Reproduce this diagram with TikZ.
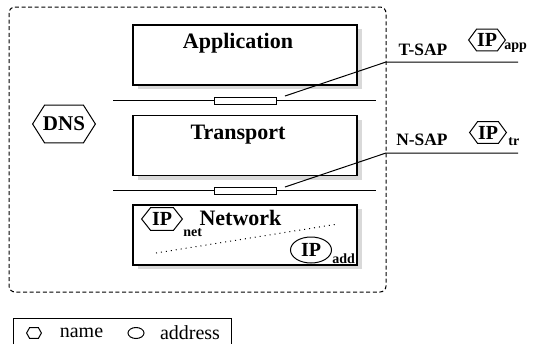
\documentclass[tikz,border=0pt]{standalone}
\usepackage{fontspec}
\setmainfont{Liberation Serif}
\usetikzlibrary{shapes.geometric, shadows, positioning}

\tikzset{
  layerbox/.style={draw, line width=0.6pt, fill=white, minimum width=112pt, minimum height=30pt, inner sep=0pt,
    drop shadow={shadow xshift=2.5pt, shadow yshift=-2pt, fill=black!15, opacity=1}},
  sapbox/.style={draw, line width=0.5pt, fill=white, minimum width=31pt, minimum height=3.5pt, inner sep=0pt},
  namehex/.style={inner sep=0pt, minimum width=18pt, minimum height=10.5pt, font=\fontsize{10}{12}\selectfont\bfseries},
  addrellipse/.style={draw, line width=0.5pt, ellipse, inner sep=0pt, font=\fontsize{10}{12}\selectfont\bfseries},
  title/.style={inner sep=0pt, font=\fontsize{11}{13}\selectfont\bfseries},
  saplabel/.style={inner sep=0pt, font=\fontsize{8.7}{10}\selectfont\bfseries},
  subtag/.style={inner sep=0pt, anchor=west, font=\fontsize{7}{8}\selectfont\bfseries},
  legendtext/.style={inner sep=0pt, font=\fontsize{10}{12}\selectfont},
  thinline/.style={line width=0.5pt}
}
% hexagon frame round a named node: #1 node, #2 inset of the points
\newcommand{\hexframe}[2]{%
  \draw [thinline] (#1.west) -- ([xshift=#2]#1.north west) -- ([xshift=-#2]#1.north east)
    -- (#1.east) -- ([xshift=-#2]#1.south east) -- ([xshift=#2]#1.south west) -- cycle;}

\begin{document}
\begin{tikzpicture}[x=0.5pt, y=-0.5pt]
\useasboundingbox (0,0) rectangle (537,344);
% outer host frame
\draw [thinline, dashed, dash pattern=on 2pt off 1.3pt, rounded corners=3pt] (9,7) rectangle (386,292);
% layers
\node [layerbox] (app) at (245,55) {};
\node [layerbox] (trans) at (245,145.5) {};
\node [layerbox] (net) at (245,235) {};
\node [title] (apptitle) at (238,43) {Application};
\node [title] (transtitle) at (238,135) {Transport};
\node [title] (nettitle) at (240.5,218) {Network};
% service access points
\node [sapbox] (tsap) at (245,100.5) {};
\node [sapbox] (nsap) at (245,190.5) {};
\coordinate (tl) at (113,100.5);
\coordinate (tr) at (376,100.5);
\coordinate (nl) at (113,190.5);
\coordinate (nr) at (376,190.5);
\draw [thinline] (tl) -- (tsap.west);
\draw [thinline] (tsap.east) -- (tr);
\draw [thinline] (nl) -- (nsap.west);
\draw [thinline] (nsap.east) -- (nr);
\coordinate (tfoot) at (285,96);
\coordinate (tknee) at (386,62);
\coordinate (tend) at (518,62);
\coordinate (nfoot) at (285,187);
\coordinate (nknee) at (386,153);
\coordinate (nend) at (518,153);
\draw [thinline] (tfoot) -- (tknee) -- (tend);
\draw [thinline] (nfoot) -- (nknee) -- (nend);
\node [saplabel] (tsaplabel) at (423,50) {T-SAP};
\node [saplabel] (nsaplabel) at (422,140) {N-SAP};
% names and addresses
\node [namehex, minimum width=31pt, minimum height=18.5pt, font=\fontsize{10.5}{12}\selectfont\bfseries] (dns) at (64,124) {DNS};
\hexframe{dns}{6pt}
\node [namehex] (ipapp) at (487,40) {IP};
\hexframe{ipapp}{4pt}
\node [subtag] (appsub) at (504,48) {app};
\node [namehex] (iptr) at (488,132.5) {IP};
\hexframe{iptr}{4pt}
\node [subtag] (trsub) at (508,142) {tr};
\node [namehex, minimum width=20pt, minimum height=11pt] (ipnet) at (162,219) {IP};
\hexframe{ipnet}{4.5pt}
\node [subtag] (netsub) at (183,233) {net};
\node [addrellipse, minimum width=20.5pt, minimum height=13pt] (ipadd) at (311,250) {IP};
\node [subtag] (addsub) at (332,259) {add};
\coordinate (dotl) at (156,253);
\coordinate (dotr) at (338,224);
\draw [thinline, dotted] (dotl) -- (dotr);
% legend
\draw [thinline] (13,344) -- (13,318) -- (231,318) -- (231,344);
\node [namehex, minimum width=7pt, minimum height=5pt] (keyhex) at (34,333) {};
\hexframe{keyhex}{1.5pt}
\node [legendtext] (keyname) at (81.5,333) {name};
\node [draw, thinline, ellipse, inner sep=0pt, minimum width=8pt, minimum height=5.5pt] (keyell) at (136,333) {};
\node [legendtext] (keyaddr) at (190,333) {address};
\end{tikzpicture}
\end{document}
